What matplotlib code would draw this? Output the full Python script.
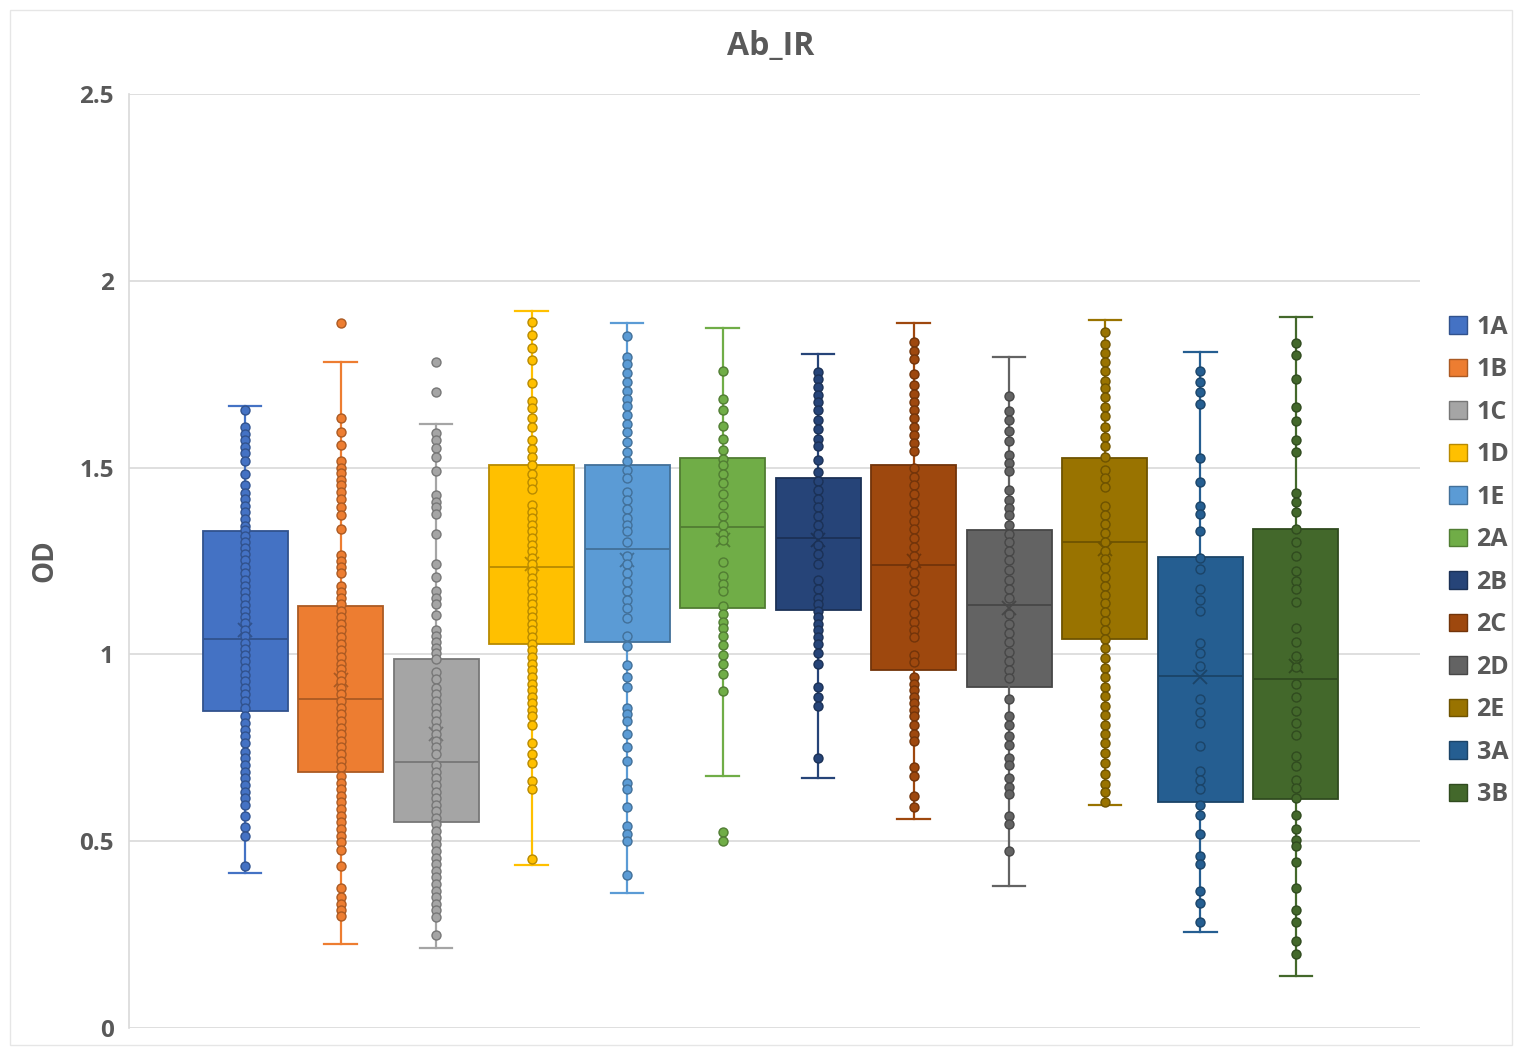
import matplotlib
matplotlib.use("Agg")
import matplotlib.pyplot as plt
from matplotlib.colors import to_rgb
from matplotlib.patches import Patch, Rectangle

# ---- data -------------------------------------------------------------
groups = ["1A", "1B", "1C", "1D", "1E", "2A", "2B", "2C", "2D", "2E", "3A", "3B"]
colors = ["#4472C4", "#ED7D31", "#A5A5A5", "#FFC000", "#5B9BD5", "#70AD47",
          "#264478", "#9E480E", "#636363", "#997300", "#255E91", "#43682B"]

# box statistics per group
q1 = [0.848, 0.684, 0.551, 1.028, 1.033, 1.123, 1.120, 0.958, 0.913, 1.042, 0.606, 0.613]
median = [1.040, 0.881, 0.713, 1.235, 1.282, 1.341, 1.311, 1.238, 1.131, 1.300, 0.943, 0.934]
q3 = [1.329, 1.129, 0.987, 1.508, 1.506, 1.526, 1.471, 1.508, 1.333, 1.526, 1.262, 1.335]
whisker_low = [0.415, 0.224, 0.215, 0.436, 0.362, 0.675, 0.669, 0.559, 0.380, 0.598, 0.256, 0.138]
whisker_high = [1.665, 1.783, 1.616, 1.919, 1.887, 1.875, 1.803, 1.887, 1.795, 1.895, 1.809, 1.903]
mean = [1.066, 0.932, 0.787, 1.243, 1.252, 1.305, 1.305, 1.250, 1.123, 1.282, 0.940, 0.969]

# individual OD readings per group
od_1A = [1.653, 1.608, 1.591, 1.573, 1.555, 1.538, 1.518, 1.482, 1.453, 1.433, 1.415, 1.397,
         1.380, 1.362, 1.344, 1.333, 1.317, 1.302, 1.285, 1.268, 1.252, 1.235, 1.217, 1.199,
         1.184, 1.167, 1.150, 1.132, 1.117, 1.101, 1.084, 1.066, 1.048, 1.031, 1.014, 0.999,
         0.981, 0.963, 0.946, 0.928, 0.910, 0.893, 0.875, 0.857, 0.834, 0.816, 0.798, 0.781,
         0.763, 0.739, 0.722, 0.704, 0.686, 0.669, 0.651, 0.633, 0.616, 0.598, 0.568, 0.539,
         0.515, 0.433]
od_1B = [1.887, 1.633, 1.594, 1.561, 1.518, 1.500, 1.485, 1.468, 1.453, 1.435, 1.415, 1.394,
         1.374, 1.335, 1.267, 1.249, 1.235, 1.219, 1.182, 1.167, 1.150, 1.134, 1.117, 1.099,
         1.081, 1.064, 1.046, 1.028, 1.011, 0.993, 0.975, 0.960, 0.946, 0.928, 0.910, 0.893,
         0.875, 0.857, 0.840, 0.822, 0.804, 0.787, 0.769, 0.751, 0.733, 0.716, 0.698, 0.675,
         0.657, 0.639, 0.621, 0.604, 0.586, 0.568, 0.551, 0.533, 0.515, 0.498, 0.476, 0.433,
         0.374, 0.350, 0.333, 0.315, 0.300]
od_1C = [1.783, 1.703, 1.592, 1.573, 1.553, 1.529, 1.491, 1.427, 1.408, 1.394, 1.376, 1.323,
         1.243, 1.208, 1.170, 1.152, 1.134, 1.105, 1.064, 1.050, 1.034, 1.017, 1.005, 0.987,
         0.952, 0.934, 0.910, 0.893, 0.875, 0.857, 0.840, 0.822, 0.804, 0.787, 0.769, 0.751,
         0.733, 0.704, 0.686, 0.669, 0.651, 0.633, 0.616, 0.598, 0.580, 0.563, 0.545, 0.527,
         0.509, 0.492, 0.474, 0.456, 0.439, 0.421, 0.403, 0.386, 0.368, 0.350, 0.333, 0.315,
         0.297, 0.248]
od_1D = [1.889, 1.854, 1.821, 1.789, 1.726, 1.677, 1.659, 1.632, 1.608, 1.573, 1.550, 1.529,
         1.506, 1.482, 1.462, 1.443, 1.400, 1.382, 1.364, 1.347, 1.329, 1.311, 1.294, 1.276,
         1.258, 1.241, 1.223, 1.205, 1.188, 1.170, 1.152, 1.134, 1.117, 1.099, 1.081, 1.064,
         1.046, 1.028, 1.011, 0.993, 0.975, 0.958, 0.940, 0.922, 0.904, 0.887, 0.869, 0.851,
         0.834, 0.810, 0.763, 0.733, 0.708, 0.660, 0.639, 0.453]
od_1E = [1.851, 1.797, 1.777, 1.754, 1.730, 1.706, 1.683, 1.665, 1.642, 1.618, 1.594, 1.568,
         1.541, 1.518, 1.494, 1.471, 1.435, 1.412, 1.388, 1.364, 1.347, 1.329, 1.300, 1.264,
         1.241, 1.217, 1.193, 1.170, 1.146, 1.123, 1.097, 1.050, 1.022, 0.972, 0.940, 0.913,
         0.857, 0.840, 0.822, 0.787, 0.751, 0.716, 0.657, 0.639, 0.592, 0.542, 0.519, 0.500,
         0.409]
od_2A = [1.759, 1.683, 1.653, 1.612, 1.577, 1.547, 1.524, 1.506, 1.482, 1.459, 1.429, 1.400,
         1.370, 1.347, 1.323, 1.305, 1.246, 1.211, 1.188, 1.170, 1.129, 1.108, 1.087, 1.070,
         1.050, 1.026, 0.999, 0.975, 0.948, 0.901, 0.524, 0.500]
od_2B = [1.757, 1.736, 1.715, 1.695, 1.675, 1.653, 1.627, 1.604, 1.577, 1.557, 1.521, 1.488,
         1.465, 1.441, 1.417, 1.394, 1.370, 1.347, 1.323, 1.294, 1.270, 1.241, 1.199, 1.176,
         1.152, 1.134, 1.117, 1.099, 1.081, 1.064, 1.046, 1.028, 1.005, 0.975, 0.913, 0.887,
         0.863, 0.722]
od_2C = [1.836, 1.813, 1.792, 1.750, 1.722, 1.698, 1.675, 1.653, 1.632, 1.608, 1.588, 1.565,
         1.545, 1.498, 1.476, 1.453, 1.429, 1.406, 1.382, 1.358, 1.335, 1.311, 1.288, 1.264,
         1.241, 1.217, 1.193, 1.170, 1.134, 1.111, 1.087, 1.064, 1.046, 0.999, 0.979, 0.940,
         0.922, 0.904, 0.887, 0.869, 0.851, 0.834, 0.810, 0.787, 0.769, 0.698, 0.675, 0.621,
         0.592]
od_2D = [1.691, 1.651, 1.627, 1.597, 1.571, 1.533, 1.512, 1.491, 1.439, 1.412, 1.392, 1.373,
         1.347, 1.323, 1.300, 1.276, 1.252, 1.226, 1.199, 1.176, 1.152, 1.108, 1.081, 1.058,
         1.034, 1.007, 0.981, 0.958, 0.936, 0.881, 0.834, 0.810, 0.781, 0.757, 0.722, 0.704,
         0.669, 0.645, 0.627, 0.568, 0.545, 0.474]
od_2E = [1.863, 1.830, 1.807, 1.783, 1.759, 1.733, 1.712, 1.689, 1.663, 1.639, 1.608, 1.583,
         1.559, 1.529, 1.494, 1.471, 1.447, 1.396, 1.373, 1.349, 1.325, 1.302, 1.278, 1.255,
         1.231, 1.208, 1.184, 1.160, 1.137, 1.113, 1.090, 1.066, 1.042, 1.017, 0.991, 0.963,
         0.940, 0.913, 0.889, 0.863, 0.837, 0.810, 0.787, 0.763, 0.736, 0.710, 0.680, 0.653,
         0.633, 0.606]
od_3A = [1.759, 1.730, 1.703, 1.671, 1.526, 1.462, 1.396, 1.376, 1.329, 1.258, 1.229, 1.176,
         1.146, 1.117, 1.031, 1.005, 0.969, 0.881, 0.846, 0.816, 0.755, 0.689, 0.665, 0.639,
         0.598, 0.571, 0.519, 0.460, 0.439, 0.368, 0.335, 0.285]
od_3B = [1.833, 1.801, 1.738, 1.663, 1.624, 1.573, 1.541, 1.432, 1.408, 1.382, 1.335, 1.300,
         1.264, 1.223, 1.196, 1.176, 1.140, 1.070, 1.034, 0.995, 0.967, 0.920, 0.887, 0.849,
         0.816, 0.783, 0.728, 0.700, 0.663, 0.642, 0.616, 0.571, 0.533, 0.504, 0.486, 0.445,
         0.374, 0.315, 0.285, 0.232, 0.197]
readings = [od_1A, od_1B, od_1C, od_1D, od_1E, od_2A, od_2B, od_2C, od_2D, od_2E, od_3A, od_3B]

y_ticks = [0, 0.5, 1, 1.5, 2, 2.5]
y_tick_labels = ["0", "0.5", "1", "1.5", "2", "2.5"]

plt.rcParams["font.family"] = ["Open Sans", "DejaVu Sans"]


def darker(c, f=0.72):
    r, g, b = to_rgb(c)
    return (r * f, g * f, b * f)


# ---- figure -----------------------------------------------------------
W, H = 1522, 1053
fig = plt.figure(figsize=(W / 100, H / 100), dpi=100)
fig.patches.append(Rectangle((10 / W, 8 / H), (W - 20) / W, (H - 18) / H,
                             transform=fig.transFigure, fill=False,
                             edgecolor="#E6E6E6", linewidth=1))

ax = fig.add_axes([129 / W, 1 - 1028 / H, (1420 - 129) / W, (1028 - 94) / H])

text_color = "#595959"
grid_color = "#D9D9D9"
positions = list(range(len(groups)))

stats = []
for i, g in enumerate(groups):
    stats.append(dict(label=g, q1=q1[i], med=median[i], q3=q3[i],
                      whislo=whisker_low[i], whishi=whisker_high[i],
                      mean=mean[i], fliers=[]))

for i, st in enumerate(stats):
    c = colors[i]
    d = darker(c)
    ax.bxp([st], positions=[positions[i]], widths=0.89, capwidths=0.34,
           patch_artist=True, showmeans=True, showfliers=False,
           boxprops=dict(facecolor=c, edgecolor=d, linewidth=1.3),
           whiskerprops=dict(color=c, linewidth=1.6),
           capprops=dict(color=c, linewidth=1.6),
           medianprops=dict(color=d, linewidth=1.3),
           meanprops=dict(marker="x", markeredgecolor=d, markersize=10,
                          markeredgewidth=1.3),
           zorder=3)
    ax.scatter([positions[i]] * len(readings[i]), readings[i], s=42,
               facecolor=c, edgecolor=d, linewidth=1.0, zorder=4)

ax.set_xlim(-1.215, 12.30)
ax.set_ylim(0, 2.5)
ax.set_yticks(y_ticks)
ax.set_yticklabels(y_tick_labels, fontsize=17.5, fontweight="bold", color=text_color)
ax.tick_params(axis="y", length=0, pad=11)
ax.set_xticks([])
ax.grid(axis="y", color=grid_color, linewidth=1.2, zorder=0)
ax.set_axisbelow(True)
for side in ("top", "right", "bottom"):
    ax.spines[side].set_visible(False)
ax.spines["left"].set_color(grid_color)
ax.spines["left"].set_linewidth(1.2)

ax.set_ylabel("OD", fontsize=20, fontweight="bold", color=text_color, labelpad=14)
fig.text(771 / W, 1 - 46 / H, "Ab_IR", ha="center", va="center",
         fontsize=23, fontweight="bold", color=text_color)

handles = [Patch(facecolor=colors[i], edgecolor=darker(colors[i]), linewidth=1.0)
           for i in range(len(groups))]
fig.legend(handles, groups, loc="center left",
           bbox_to_anchor=(1449 / W, 1 - 561 / H), frameon=False,
           borderpad=0, borderaxespad=0,
           handlelength=0.7, handleheight=0.7, handletextpad=0.4,
           labelspacing=0.7,
           prop=dict(family=["Open Sans", "DejaVu Sans"], size=18, weight="bold"),
           labelcolor=text_color)

fig.savefig("out.png", dpi=100, facecolor="white")
